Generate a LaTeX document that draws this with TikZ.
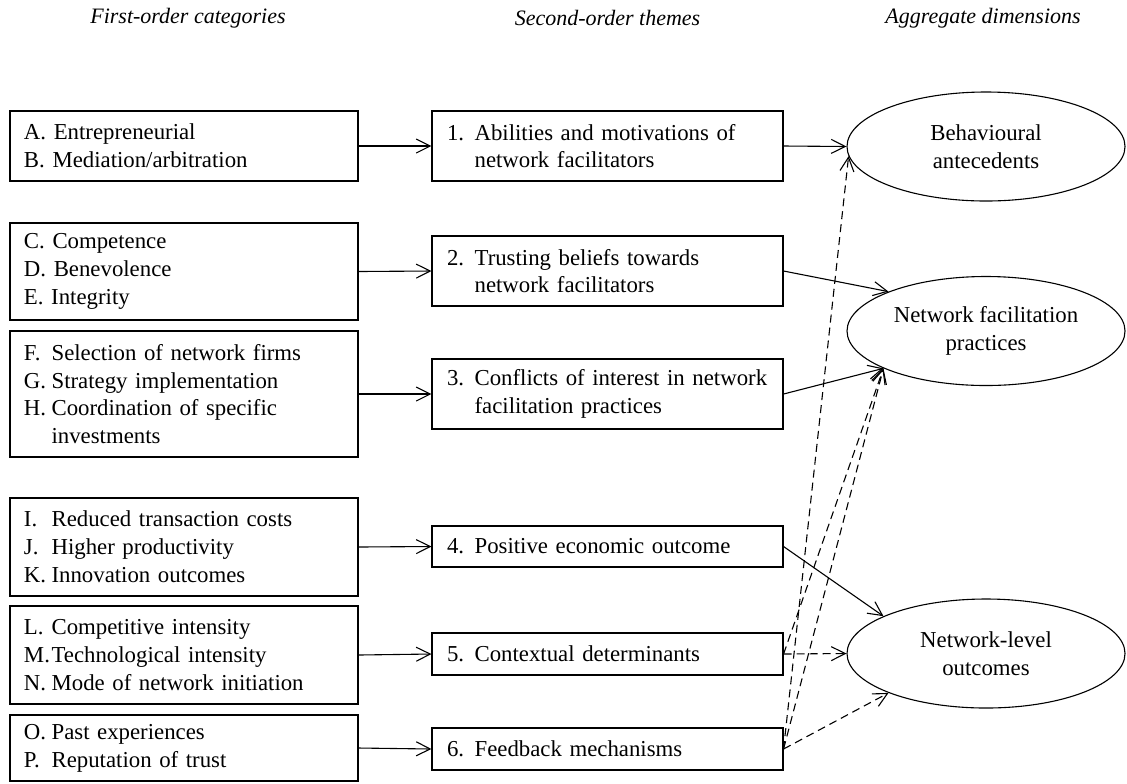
\documentclass[tikz,border=0pt]{standalone}
\usepackage{fontspec}
\setmainfont{Liberation Serif}
\usetikzlibrary{shapes.geometric,arrows.meta}
\newcommand{\itemlab}[1]{\makebox[13.8pt][l]{#1}}

\begin{document}
\begin{tikzpicture}[x=0.5pt,y=-0.5pt,
  font=\fontsize{11.4}{13.9}\selectfont,
  lbox/.style={draw,line width=0.55pt,text width=160pt,inner xsep=7pt,inner ysep=0pt,align=left},
  tbox/.style={draw,line width=0.55pt,text width=160.5pt,inner xsep=7.5pt,inner ysep=0pt,align=left},
  dim/.style={draw,ellipse,line width=0.55pt,minimum width=139pt,minimum height=54.5pt,inner sep=0pt,align=center},
  head/.style={font=\fontsize{11}{13.9}\selectfont\itshape},
  link/.style={line width=0.55pt,-{Straight Barb[length=7pt,width=7pt]}},
  weak/.style={link,dash pattern=on 4pt off 2.5pt}]
\useasboundingbox (0,0) rectangle (1127,783);

\node[head] (h1) at (188,18) {First-order categories};
\node[head] (h2) at (607.5,18) {Second-order themes};
\node[head] (h3) at (983,18) {Aggregate dimensions};

\node[lbox,minimum height=35pt] (ab) at (184,146) {A. Entrepreneurial\\B. Mediation/arbitration};
\node[lbox,minimum height=48.5pt] (cde) at (184,271.5) {C. Competence\\D. Benevolence\\E. Integrity};
\node[lbox,minimum height=63pt] (fgh) at (184,394) {\itemlab{F.}Selection of network firms\\\itemlab{G.}Strategy implementation\\\itemlab{H.}Coordination of specific\\\itemlab{}investments};
\node[lbox,minimum height=49pt] (ijk) at (184,547) {\itemlab{I.}Reduced transaction costs\\\itemlab{J.}Higher productivity\\\itemlab{K.}Innovation outcomes};
\node[lbox,minimum height=49pt] (lmn) at (184,655) {\itemlab{L.}Competitive intensity\\\itemlab{M.}Technological intensity\\\itemlab{N.}Mode of network initiation};
\node[lbox,minimum height=33pt] (op) at (184,748) {\itemlab{O.}Past experiences\\\itemlab{P.}Reputation of trust};

\node[tbox,minimum height=35pt] (t1) at (607.5,146) {\itemlab{1.}Abilities and motivations of\\\itemlab{}network facilitators};
\node[tbox,minimum height=35pt] (t2) at (607.5,271) {\itemlab{2.}Trusting beliefs towards\\\itemlab{}network facilitators};
\node[tbox,minimum height=35pt] (t3) at (607.5,394) {\mbox{\itemlab{3.}Conflicts of interest in network}\\\itemlab{}facilitation practices};
\node[tbox,minimum height=20.5pt] (t4) at (607.5,546.5) {\itemlab{4.}Positive economic outcome};
\node[tbox,minimum height=21pt] (t5) at (607.5,654) {\itemlab{5.}Contextual determinants};
\node[tbox,minimum height=21pt] (t6) at (607.5,749) {\itemlab{6.}Feedback mechanisms};

\node[dim] (ba) at (986,146.5) {Behavioural\\antecedents};
\node[dim] (nf) at (986,331) {Network facilitation\\practices};
\node[dim] (nl) at (986,653.5) {Network-level\\outcomes};

\draw[link] (ab.east) -- (t1.west);
\draw[link] (cde.east) -- (t2.west);
\draw[link] (fgh.east) -- (t3.west);
\draw[link] (ijk.east) -- (t4.west);
\draw[link] (lmn.east) -- (t5.west);
\draw[link] (op.east) -- (t6.west);

\draw[link] (t1.east) -- (ba.west);
\draw[link] (t2.east) -- (nf.158);
\draw[link] (t3.east) -- (nf.200);
\draw[link] (t4.east) -- (nl.160);
\draw[weak] (t5.east) -- (nl.west);
\draw[weak] (t5.east) -- (nf.200);
\draw[weak] (t6.east) -- (ba.184);
\draw[weak] (t6.east) -- (nf.200);
\draw[weak] (t6.east) -- (nl.202);

\end{tikzpicture}
\end{document}
